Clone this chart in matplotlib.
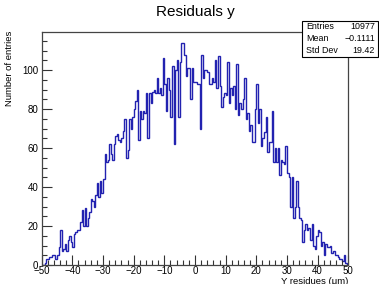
import numpy as np
import matplotlib
matplotlib.use("Agg")
import matplotlib.pyplot as plt
from matplotlib.ticker import MultipleLocator

plt.rcParams['font.family'] = ['Liberation Sans', 'DejaVu Sans']

title = "Residuals y"
xlabel = "Y residues (\u03bcm)"
ylabel = "Number of entries"
x_range = (-50, 50)
n_bins = 200
counts = [
    0, 0, 1, 3, 3, 4, 4, 5, 5, 3,
    5, 9, 18, 7, 8, 11, 7, 13, 15, 12,
    9, 16, 17, 18, 18, 22, 28, 20, 29, 20,
    24, 27, 34, 33, 30, 36, 42, 35, 43, 37,
    44, 57, 53, 54, 62, 57, 54, 62, 66, 67,
    64, 63, 65, 69, 75, 55, 59, 75, 70, 76,
    80, 84, 90, 64, 79, 75, 79, 78, 88, 65,
    88, 83, 89, 90, 88, 96, 88, 91, 87, 106,
    93, 79, 96, 90, 76, 102, 62, 100, 105, 76,
    104, 114, 114, 108, 97, 101, 101, 85, 101, 94,
    94, 93, 93, 70, 108, 96, 100, 100, 99, 93,
    93, 96, 94, 105, 91, 107, 92, 81, 86, 88,
    87, 104, 83, 91, 87, 92, 80, 103, 77, 83,
    80, 85, 96, 75, 78, 69, 72, 63, 63, 80,
    93, 73, 80, 61, 65, 68, 76, 58, 63, 63,
    79, 53, 60, 53, 60, 46, 54, 53, 52, 61,
    47, 45, 30, 45, 24, 30, 43, 30, 24, 23,
    12, 18, 21, 18, 19, 13, 21, 10, 8, 15,
    18, 17, 10, 12, 5, 11, 9, 9, 10, 6,
    7, 5, 5, 4, 3, 3, 2, 5, 1, 0,
]
stats_labels = ["Entries", "Mean", "Std Dev"]
stats_values = ["10977", "\u22120.1111", "19.42"]

W, H = 379, 284
fig = plt.figure(figsize=(W / 100, H / 100), dpi=100)
ax = fig.add_axes([41.7 / W, 1 - 265 / H, (348.3 - 41.7) / W, (265 - 31.7) / H])

edges = np.linspace(x_range[0], x_range[1], n_bins + 1)
ax.stairs(counts, edges, color='#2222b0', linewidth=1.0)

ax.set_xlim(*x_range)
ax.set_ylim(0, max(counts) * 1.05)

ax.xaxis.set_major_locator(MultipleLocator(10))
ax.xaxis.set_minor_locator(MultipleLocator(2))
ax.yaxis.set_major_locator(MultipleLocator(20))
ax.yaxis.set_minor_locator(MultipleLocator(5))
ax.tick_params(which='both', direction='in', top=False, right=False,
               labelsize=7, width=0.8, color='#333333')
ax.tick_params(axis='x', pad=1.0)
ax.tick_params(axis='y', pad=2.5)
ax.tick_params(which='major', length=7)
ax.tick_params(which='minor', length=3.5)
for s in ax.spines.values():
    s.set_linewidth(0.9)
    s.set_color('#444444')

fig.text(195 / W, 1 - 12 / H, title, ha='center', va='center', fontsize=11)
fig.text(348.3 / W, 1 - 276.5 / H, xlabel, ha='right', va='top', fontsize=6.8)
fig.text(10 / W, 1 - 31 / H, ylabel, ha='center', va='top', rotation=90, fontsize=6.8)

# stats box
bx0, by0, bx1, by1 = 302 / W, 1 - 57 / H, 378 / W, 1 - 20.5 / H
rect = plt.Rectangle((bx0, by0), bx1 - bx0, by1 - by0, transform=fig.transFigure,
                     facecolor='white', edgecolor='black', linewidth=0.8, zorder=5)
fig.patches.append(rect)
rh = (by1 - by0) / 3
for k, (lab, val) in enumerate(zip(stats_labels, stats_values)):
    yy = by1 - rh * (k + 0.5)
    fig.text(bx0 + 4 / W, yy, lab, ha='left', va='center', fontsize=6.4, zorder=6)
    fig.text(bx1 - 3 / W, yy, val, ha='right', va='center', fontsize=6.4, zorder=6)

fig.savefig("out.png", dpi=100)
